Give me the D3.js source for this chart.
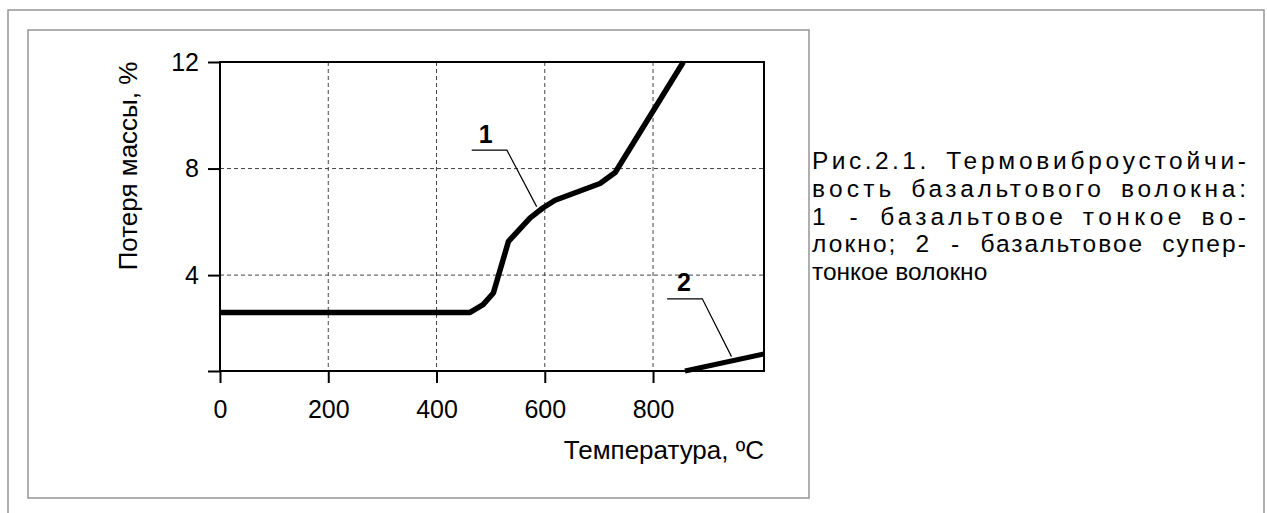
<!DOCTYPE html>
<html>
<head>
<meta charset="utf-8">
<script src="https://cdn.jsdelivr.net/npm/d3@7"></script>
<style>
  body { margin: 0; background: #fff; }
  svg text { font-family: Arial, "Liberation Sans", sans-serif; fill: #000; }
</style>
</head>
<body>
<svg id="chart" width="1267" height="513"></svg>
<script>
// --- Data ---
const xTicks = [0, 200, 400, 600, 800];
const yTicks = [4, 8, 12];
// curve 1: basalt fine fibre
const fineT    = [0, 462, 486, 505, 533, 573, 597, 619, 702, 730, 856];
const fineLoss = [2.6, 2.6, 2.89, 3.33, 5.27, 6.15, 6.53, 6.81, 7.44, 7.85, 12];
// curve 2: basalt super-fine fibre
const superT    = [859, 1005];
const superLoss = [0.4, 1.04];
// curve numbers and their leader lines, in data units
const curveNames = ["1", "2"];
const namePos = [[491, 8.95], [857, 3.39]];
const leaderLines = [
  [[465, 8.69], [530, 8.69], [585, 6.57]],
  [[826, 3.11], [891, 3.11], [945, 0.94]]
];
const captionLines = [
  "Рис.2.1. Термовиброустойчи-",
  "вость базальтового волокна:",
  "1 - базальтовое тонкое во-",
  "локно; 2 - базальтовое супер-",
  "тонкое волокно"
];

const svg = d3.select("#chart");

// --- Frames ---
svg.append("rect")
  .attr("x", 8).attr("y", 10).attr("width", 1256).attr("height", 540)
  .attr("fill", "none").attr("stroke", "#959595").attr("stroke-width", 1.5);
svg.append("rect")
  .attr("x", 28).attr("y", 30).attr("width", 781).attr("height", 468)
  .attr("fill", "none").attr("stroke", "#959595").attr("stroke-width", 1.5);

// --- Scales ---
const x = d3.scaleLinear().domain([0, 1005]).range([220, 764]);
const y = d3.scaleLinear().domain([0.4, 12]).range([371, 62]);

// --- Grid ---
svg.append("g")
  .selectAll("line")
  .data(xTicks.slice(1))
  .join("line")
  .attr("x1", d => x(d)).attr("x2", d => x(d))
  .attr("y1", y(12)).attr("y2", y(0.4))
  .attr("stroke", "#444").attr("stroke-width", 1).attr("stroke-dasharray", "4,3");
svg.append("g")
  .selectAll("line")
  .data(yTicks.slice(0, -1))
  .join("line")
  .attr("x1", x(0)).attr("x2", x(1005))
  .attr("y1", d => y(d)).attr("y2", d => y(d))
  .attr("stroke", "#444").attr("stroke-width", 1).attr("stroke-dasharray", "4,3");

// --- Axes ---
const xAxis = svg.append("g")
  .attr("transform", `translate(0,${y(0.4)})`)
  .call(d3.axisBottom(x).tickValues(xTicks).tickSize(12).tickSizeOuter(0).tickPadding(17));
const yAxis = svg.append("g")
  .attr("transform", `translate(${x(0)},0)`)
  .call(d3.axisLeft(y).tickValues([0.4].concat(yTicks))
    .tickFormat(d => d === 0.4 ? "" : d)
    .tickSize(12).tickSizeOuter(0).tickPadding(9));
[xAxis, yAxis].forEach(g => {
  g.select(".domain").remove();
  g.selectAll("line").attr("stroke", "#000").attr("stroke-width", 2);
  g.selectAll("text").attr("font-size", 25).attr("font-family", "Arial, 'Liberation Sans', sans-serif");
});

// plot border
svg.append("rect")
  .attr("x", x(0)).attr("y", y(12))
  .attr("width", x(1005) - x(0)).attr("height", y(0.4) - y(12))
  .attr("fill", "none").attr("stroke", "#000").attr("stroke-width", 2);

// --- Curves ---
const line = d3.line().x(d => x(d[0])).y(d => y(d[1]));
const curves = [d3.zip(fineT, fineLoss), d3.zip(superT, superLoss)];
svg.append("g")
  .selectAll("path")
  .data(curves)
  .join("path")
  .attr("d", line)
  .attr("fill", "none").attr("stroke", "#000")
  .attr("stroke-width", (d, i) => i === 0 ? 5.5 : 5)
  .attr("stroke-linejoin", "round");

// --- Leaders and curve numbers ---
svg.append("g")
  .selectAll("path")
  .data(leaderLines)
  .join("path")
  .attr("d", line)
  .attr("fill", "none").attr("stroke", "#000").attr("stroke-width", 1.2);
svg.append("g")
  .selectAll("text")
  .data(curveNames)
  .join("text")
  .attr("x", (d, i) => x(namePos[i][0]))
  .attr("y", (d, i) => y(namePos[i][1]))
  .attr("text-anchor", "middle")
  .attr("font-size", 25).attr("font-weight", "bold")
  .text(d => d);

// --- Axis titles ---
svg.append("text")
  .attr("transform", "translate(137,166) rotate(-90)")
  .attr("text-anchor", "middle")
  .attr("font-size", 26)
  .text("Потеря массы, %");
svg.append("text")
  .attr("x", x(1005)).attr("y", 459)
  .attr("text-anchor", "end")
  .attr("font-size", 26)
  .text("Температура, ºС");

// --- Caption, justified (word gaps capped, rest spread over letters) ---
const capLeft = 812, capRight = 1246, capTop = 169, capStep = 27.8;
const cap = svg.append("g").attr("font-size", 24.5);
captionLines.forEach((txt, li) => {
  const words = txt.split(" ");
  const nodes = words.map(w => cap.append("text").attr("y", capTop + li * capStep).text(w));
  const widths = nodes.map(n => n.node().getComputedTextLength());
  const last = li === captionLines.length - 1;
  const room = capRight - capLeft - d3.sum(widths);
  let gap = 7, k = 1;
  if (!last) {
    gap = Math.min(room / (words.length - 1), 20);
    k = 1 + (room - gap * (words.length - 1)) / d3.sum(widths);
  }
  let cx = capLeft;
  nodes.forEach((n, i) => {
    const w = widths[i] * k;
    n.attr("x", cx);
    if (k > 1.001) n.attr("textLength", w).attr("lengthAdjust", "spacing");
    cx += w + gap;
  });
});
</script>
</body>
</html>
